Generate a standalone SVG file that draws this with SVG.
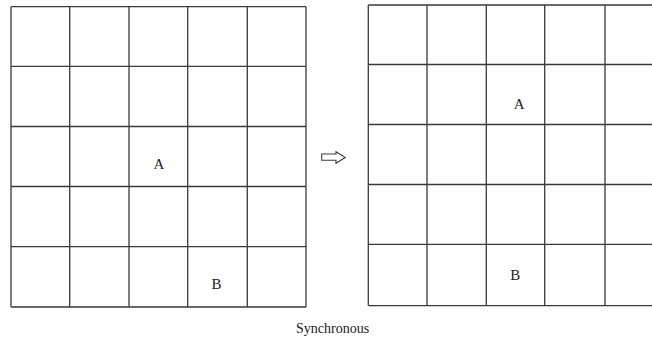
<svg xmlns="http://www.w3.org/2000/svg" width="652" height="342" viewBox="0 0 652 342">
<style>
.g{fill:none;stroke:#3a3a3a;stroke-width:1.3}
.l{font-family:"Liberation Serif","Times New Roman",serif;font-size:15px;fill:#222;text-anchor:middle}
.c{font-family:"Liberation Serif","Times New Roman",serif;font-size:14px;fill:#222}
</style>
<rect width="652" height="342" fill="#fff"/>
<g id="grid1">
<path class="g" d="M11 6.7H306M11 66.3H306M11 126.5H306M11 186.5H306M11 246.7H306M11 307H306M11 6.7V307M69.7 6.7V307M129 6.7V307M187.7 6.7V307M247.3 6.7V307M306 6.7V307"/>
<text class="l" x="158.8" y="169">A</text>
<text class="l" x="216.5" y="288.7">B</text>
</g>
<g id="grid2">
<path class="g" d="M368.3 5H652M368.3 64.5H652M368.3 124.5H652M368.3 184.5H652M368.3 244.4H652M368.3 305.6H652M368.3 5V305.6M427 5V305.6M486.3 5V305.6M544.7 5V305.6M605 5V305.6"/>
<text class="l" x="519.2" y="109">A</text>
<text class="l" x="515.2" y="280">B</text>
</g>
<g id="connectors">
<path d="M321.7 154H336V151.7L345.3 157.5L336 163.3V160.3H321.7Z" fill="#fff" stroke="#3a3a3a" stroke-width="1.1"/>
</g>
<text class="c" x="296" y="333">Synchronous</text>
</svg>
